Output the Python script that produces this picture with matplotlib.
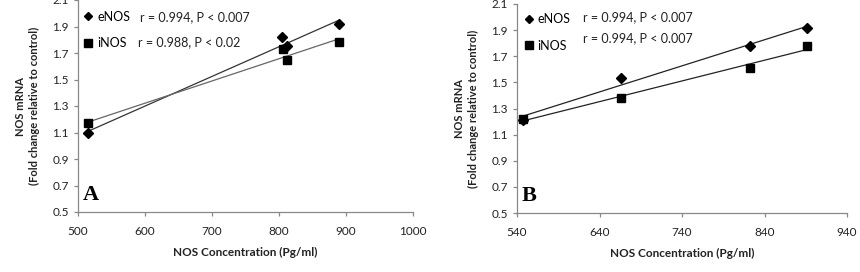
import numpy as np
import matplotlib
matplotlib.use("Agg")
import matplotlib.pyplot as plt
from matplotlib.lines import Line2D

# Panel A data
a_enos_x = [515, 805, 812, 890]
a_enos_y = [1.10, 1.82, 1.75, 1.92]
a_inos_x = [515, 806, 812, 890]
a_inos_y = [1.17, 1.73, 1.65, 1.78]
a_stats = ["r = 0.994, P < 0.007", "r = 0.988, P < 0.02"]
a_xticks = [500, 600, 700, 800, 900, 1000]

# Panel B data
b_enos_x = [547, 666, 823, 891]
b_enos_y = [1.21, 1.53, 1.78, 1.92]
b_inos_x = [547, 666, 822, 891]
b_inos_y = [1.22, 1.38, 1.61, 1.78]
b_stats = ["r = 0.994, P < 0.007", "r = 0.994, P < 0.007"]
b_xticks = [540, 640, 740, 840, 940]

yticks = [0.5, 0.7, 0.9, 1.1, 1.3, 1.5, 1.7, 1.9, 2.1]

plt.rcParams['font.family'] = ['Lato', 'DejaVu Sans']

W, H = 860, 272
fig = plt.figure(figsize=(W/100, H/100), dpi=100)

def px_axes(l, t, r, b):
    return fig.add_axes([l/W, 1-b/H, (r-l)/W, (b-t)/H])

def panel(ax, ex, ey, ix, iy, stats, xticks, letter, enos_col, inos_col,
          leg_x, pad, leg_top, stat_pos):
    for x, y, col in ((ex, ey, enos_col), (ix, iy, inos_col)):
        k, c = np.polyfit(x, y, 1)
        xs = np.array([min(x), max(x)])
        ax.plot(xs, k*xs + c, color=col, lw=0.9, zorder=2)
    ax.plot(ex, ey, linestyle='none', marker='D', ms=5, color='black', zorder=3)
    ax.plot(ix, iy, linestyle='none', marker='s', ms=6.3, color='black', zorder=4)
    ax.set_xlim(xticks[0], xticks[-1])
    ax.set_ylim(0.5, 2.1)
    ax.set_xticks(xticks)
    ax.set_yticks(yticks)
    ax.set_yticklabels([f"{v:.1f}" for v in yticks])
    for s in ('top', 'right'):
        ax.spines[s].set_visible(False)
    for s in ('left', 'bottom'):
        ax.spines[s].set_color('#888888')
        ax.spines[s].set_linewidth(0.9)
    ax.tick_params(axis='both', colors='#888888', labelcolor='#222222',
                   labelsize=8.5, length=3, width=0.9)
    ax.tick_params(axis='x', pad=7)
    ax.set_xlabel("NOS Concentration (Pg/ml)", fontsize=8.5, fontweight='bold',
                  labelpad=7, color='#222222')
    ax.set_ylabel("NOS mRNA\n(Fold change relative to control)", fontsize=8,
                  fontweight='bold', labelpad=9, color='#222222',
                  linespacing=1.3)
    handles = [Line2D([], [], linestyle='none', marker='D', ms=4.5, color='black'),
               Line2D([], [], linestyle='none', marker='s', ms=6, color='black')]
    ax.legend(handles, ['eNOS', 'iNOS'], loc='upper left', frameon=False,
              fontsize=9, handlelength=0.6, handletextpad=pad,
              labelspacing=1.15, borderpad=0, borderaxespad=0,
              bbox_to_anchor=(leg_x, leg_top))
    for s, (sx, sy) in zip(stats, stat_pos):
        ax.text(sx, sy, s, transform=ax.transAxes, fontsize=9,
                va='center', color='#222222')
    ax.text(0.015, 0.035, letter, transform=ax.transAxes, fontsize=16,
            fontweight='bold', family='Liberation Serif', va='bottom')

axA = px_axes(78, 0, 413, 212)
panel(axA, a_enos_x, a_enos_y, a_inos_x, a_inos_y, a_stats, a_xticks, 'A',
      '#333333', '#666666', 0.019, 0.45, 0.95, [(0.185, 0.92), (0.179, 0.80)])
axB = px_axes(517, 4, 847, 213)
panel(axB, b_enos_x, b_enos_y, b_inos_x, b_inos_y, b_stats, b_xticks, 'B',
      '#222222', '#222222', 0.026, 0.35, 0.955, [(0.20, 0.935), (0.20, 0.835)])

fig.savefig("out.png", dpi=100)
